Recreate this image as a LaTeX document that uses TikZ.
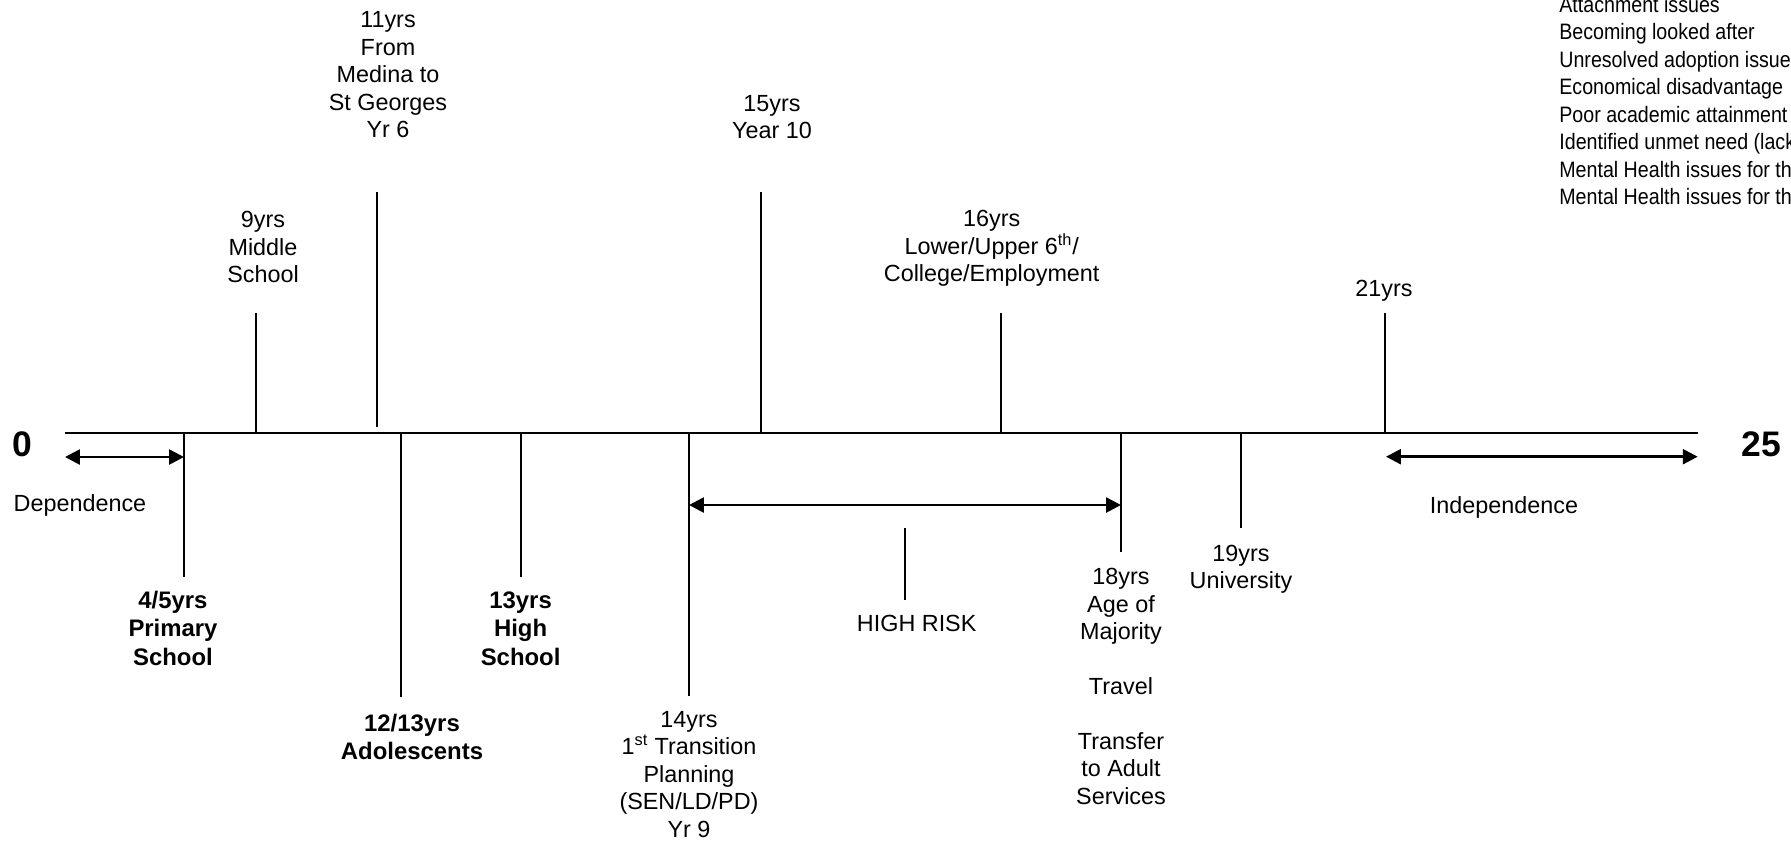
\documentclass[tikz,border=0pt]{standalone}
\usepackage{fontspec}
\setmainfont{Liberation Sans}
\newfontfamily\listfont[FakeStretch=0.88]{Liberation Sans}
\usetikzlibrary{arrows.meta}
\tikzset{
  lbl/.style={font=\fontsize{13.3}{15.6}\selectfont, align=center, anchor=base, inner sep=0pt},
  blbl/.style={font=\fontsize{13.6}{16.2}\selectfont\bfseries, align=center, anchor=base, inner sep=0pt},
  endlbl/.style={font=\fontsize{20.2}{24}\selectfont\bfseries, inner sep=0pt},
  tickline/.style={line width=0.9pt},
  spanarrow/.style={{Triangle[length=8.5pt,width=8.5pt]}-{Triangle[length=8.5pt,width=8.5pt]}, line width=1.5pt},
}
\begin{document}
\begin{tikzpicture}[x=0.02cm,y=-0.02cm]
\useasboundingbox (0,0) rectangle (1791,843);
% 时间轴
\coordinate (start) at (65,432.7);
\coordinate (end) at (1697.7,432.7);
\draw[line width=1.2pt] (start) -- (end);
\node[endlbl] (zero) at (22.5,444.5) {0};
\node[endlbl] (twentyfive) at (1761.7,444) {25};
% 依赖 / 独立
\coordinate (dep1) at (65,457);
\coordinate (dep2) at (184,457);
\draw[spanarrow] (dep1) -- (dep2);
\node[lbl] (dep) at (80,511.7) {Dependence};
\coordinate (ind1) at (1386,456.7);
\coordinate (ind2) at (1697.7,456.7);
\draw[spanarrow] (ind1) -- (ind2);
\node[lbl] (ind) at (1504,513) {Independence};
% 轴上方 (标签按最后一行基线定位)
\coordinate (a9) at (256,432.7);
\coordinate (b9) at (256,313);
\draw[tickline] (a9) -- (b9);
\node[lbl] (l9) at (263,282.8) {9yrs\\Middle\\School};
\coordinate (a11) at (376.8,426.7);
\coordinate (b11) at (376.8,192);
\draw[tickline] (a11) -- (b11);
\node[lbl] (l11) at (388,137.6) {11yrs\\From\\Medina to\\St Georges\\Yr 6};
\coordinate (a15) at (760.7,432.7);
\coordinate (b15) at (760.7,192);
\draw[tickline] (a15) -- (b15);
\node[lbl] (l15) at (772,138.4) {15yrs\\Year 10};
\coordinate (a16) at (1001,432.7);
\coordinate (b16) at (1001,313);
\draw[tickline] (a16) -- (b16);
\node[lbl] (l16) at (991.7,281.8) {16yrs\\Lower/Upper 6\textsuperscript{th}/\\College/Employment};
\coordinate (a21) at (1385,432.7);
\coordinate (b21) at (1385,313);
\draw[tickline] (a21) -- (b21);
\node[lbl] (l21) at (1384,296) {21yrs};
% 轴下方
\coordinate (a4) at (184,432.7);
\coordinate (b4) at (184,576.7);
\draw[tickline] (a4) -- (b4);
\node[blbl] (l4) at (173,665) {4/5yrs\\Primary\\School};
\coordinate (a12) at (401,432.7);
\coordinate (b12) at (401,696.7);
\draw[tickline] (a12) -- (b12);
\node[blbl] (l12) at (412,759.5) {12/13yrs\\Adolescents};
\coordinate (a13) at (521.2,432.7);
\coordinate (b13) at (521.2,576.7);
\draw[tickline] (a13) -- (b13);
\node[blbl] (l13) at (520.6,665) {13yrs\\High\\School};
\coordinate (a14) at (689,432.7);
\coordinate (b14) at (689,696);
\draw[tickline] (a14) -- (b14);
\node[lbl] (l14) at (689,837) {14yrs\\1\textsuperscript{st} Transition\\Planning\\(SEN/LD/PD)\\Yr 9};
\coordinate (a18) at (1121,432.7);
\coordinate (b18) at (1121,552);
\draw[tickline] (a18) -- (b18);
\node[lbl] (l18) at (1121,804) {18yrs\\Age of\\Majority\\[15.6pt]Travel\\[15.6pt]Transfer\\to Adult\\Services};
\coordinate (a19) at (1241,432.7);
\coordinate (b19) at (1241,528);
\draw[tickline] (a19) -- (b19);
\node[lbl] (l19) at (1241,588.4) {19yrs\\University};
% 高风险
\coordinate (r1) at (689,505);
\coordinate (r2) at (1121,505);
\draw[spanarrow] (r1) -- (r2);
\coordinate (rt) at (905,528);
\coordinate (rb) at (905,600);
\draw[tickline] (rt) -- (rb);
\node[lbl] (risk) at (916.7,631) {HIGH RISK};
% 风险因素
\node[anchor=base west, align=left, inner sep=0pt, font=\listfont\fontsize{12.7}{15.65}\selectfont] (factors) at (1559,204.5)
  {Attachment issues\\Becoming looked after\\Unresolved adoption issue\\Economical disadvantage\\Poor academic attainment\\Identified unmet need (lack\\Mental Health issues for th\\Mental Health issues for th};
\end{tikzpicture}
\end{document}
